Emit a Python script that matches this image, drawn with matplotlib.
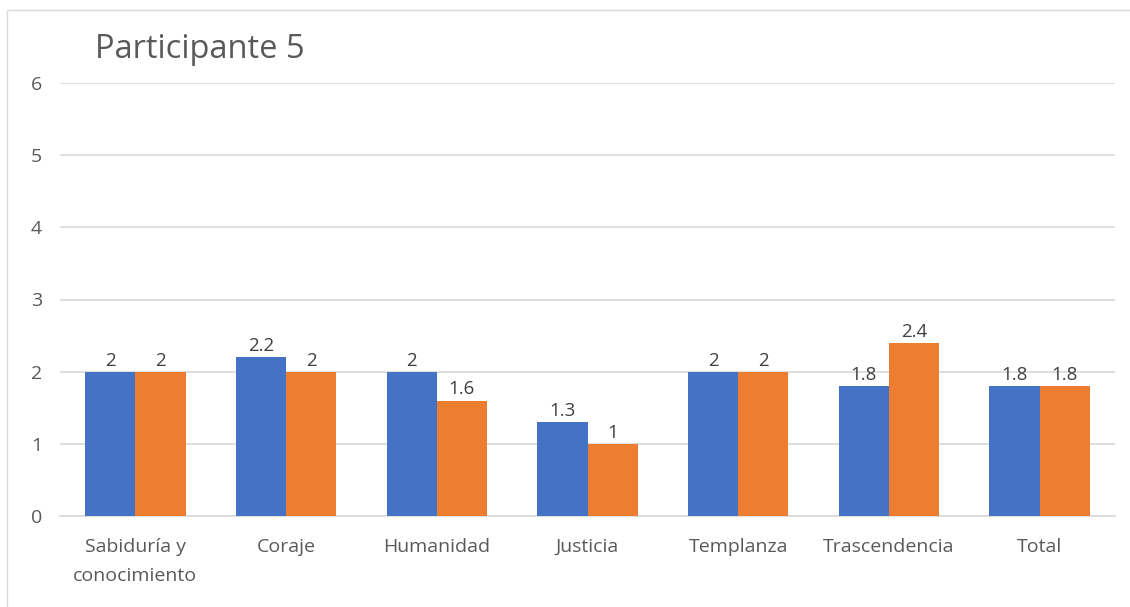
import numpy as np
import matplotlib.pyplot as plt
from matplotlib.patches import Rectangle

categories = ['Sabiduría y\nconocimiento', 'Coraje', 'Humanidad', 'Justicia',
              'Templanza', 'Trascendencia', 'Total']
serie_1 = [2, 2.2, 2, 1.3, 2, 1.8, 1.8]
serie_2 = [2, 2, 1.6, 1, 2, 2.4, 1.8]
yticks = [0, 1, 2, 3, 4, 5, 6]

blue = '#4472C4'
orange = '#ED7D31'
text_c = '#595959'
grid_c = '#D9D9D9'

plt.rcParams['font.family'] = ['Open Sans', 'DejaVu Sans']

fig = plt.figure(figsize=(11.3, 6.07), dpi=100)
ax = fig.add_axes([60 / 1130, 91 / 607, 1055 / 1130, 433 / 607])

# chart border (left and top only are visible in the reference)
fig.patches.append(Rectangle((7 / 1130, -0.05), 1.2, 1 - 10 / 607 + 0.05,
                             transform=fig.transFigure, fill=False,
                             edgecolor='#D9D9D9', linewidth=1))

x = np.arange(len(categories))
w = 0.333
b1 = ax.bar(x - w / 2, serie_1, w, color=blue, zorder=3)
b2 = ax.bar(x + w / 2, serie_2, w, color=orange, zorder=3)

for bars, vals in ((b1, serie_1), (b2, serie_2)):
    for bar, v in zip(bars, vals):
        ax.text(bar.get_x() + bar.get_width() / 2, v + 0.03, f'{v:g}',
                ha='center', va='bottom', fontsize=13.5, color='#404040')

ax.set_xlim(-0.5, len(categories) - 0.5)
ax.set_ylim(0, 6)
ax.set_yticks(yticks)
ax.set_xticks(x)
ax.set_xticklabels(categories, linespacing=1.75)
ax.tick_params(axis='both', length=0, labelsize=14, colors=text_c)
ax.tick_params(axis='x', pad=16)
ax.tick_params(axis='y', pad=13)
ax.grid(axis='y', color=grid_c, linewidth=1.2, zorder=0)
for s in ['top', 'right', 'left']:
    ax.spines[s].set_visible(False)
ax.spines['bottom'].set_color(grid_c)
ax.spines['bottom'].set_linewidth(1.2)

fig.text(95 / 1130, 1 - 50 / 607, 'Participante 5', fontsize=23.5, color=text_c,
         ha='left', va='center')

fig.savefig('out.png', dpi=100)
